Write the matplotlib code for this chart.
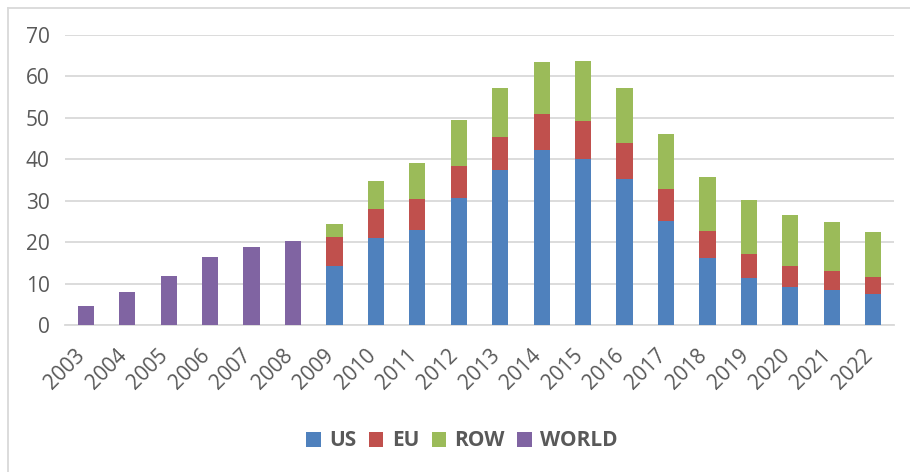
import numpy as np
import matplotlib
matplotlib.use('Agg')
import matplotlib.pyplot as plt
import matplotlib.transforms as mtrans
from matplotlib.lines import Line2D

plt.rcParams['font.family'] = ['Open Sans', 'DejaVu Sans']

years = ['2003', '2004', '2005', '2006', '2007', '2008', '2009', '2010', '2011', '2012',
         '2013', '2014', '2015', '2016', '2017', '2018', '2019', '2020', '2021', '2022']

# WORLD total 2003-2008
world = [4.7, 8.1, 12.0, 16.5, 18.9, 20.3]
# stacked series 2009-2022
us = [14.4, 21.0, 23.1, 30.8, 37.4, 42.3, 40.2, 35.3, 25.2, 16.2, 11.3, 9.2, 8.5, 7.5]
eu = [7.0, 7.0, 7.3, 7.6, 8.0, 8.7, 9.1, 8.7, 7.7, 6.5, 5.9, 5.2, 4.6, 4.2]
row = [3.1, 6.9, 8.7, 11.2, 11.8, 12.5, 14.5, 13.2, 13.2, 13.0, 12.9, 12.2, 11.7, 10.7]

c_us = '#4F81BD'
c_eu = '#C0504D'
c_row = '#9BBB59'
c_world = '#8064A2'
txt = '#595959'
grid = '#D9D9D9'

fig = plt.figure(figsize=(9.1, 4.72), dpi=100)
ax = fig.add_axes([65/910, (472-325.3)/472, 829/910, 290.3/472])

x = np.arange(len(years))
xw = x[:len(world)]
xs = x[len(world):]
w = 0.39

ax.bar(xw, world, w, color=c_world, label='WORLD', zorder=3)
ax.bar(xs, us, w, color=c_us, label='US', zorder=3)
ax.bar(xs, eu, w, bottom=us, color=c_eu, label='EU', zorder=3)
ax.bar(xs, row, w, bottom=np.array(us) + np.array(eu), color=c_row, label='ROW', zorder=3)

ax.set_xlim(-0.5, len(years) - 0.5)
ax.set_ylim(0, 70)
ax.set_yticks(range(0, 71, 10))
ax.yaxis.grid(True, color=grid, linewidth=1.3, zorder=0)
ax.set_axisbelow(True)
for s in ['top', 'right', 'left']:
    ax.spines[s].set_visible(False)
ax.spines['bottom'].set_color(grid)
ax.spines['bottom'].set_linewidth(1.3)
ax.tick_params(axis='both', length=0, labelsize=15, colors=txt)
ax.tick_params(axis='y', pad=11)
ax.set_xticks(x)
ax.set_xticklabels(years, rotation=45, ha='right', rotation_mode='anchor')
ax.tick_params(axis='x', pad=14)
shift = mtrans.ScaledTranslation(-0.11, 0, fig.dpi_scale_trans)
for lab in ax.get_xticklabels():
    lab.set_transform(lab.get_transform() + shift)

h, l = ax.get_legend_handles_labels()
order = [1, 2, 3, 0]
leg = fig.legend([h[i] for i in order], [l[i] for i in order], loc='center',
                 bbox_to_anchor=(462/910, 1 - 441/472), ncol=4, frameon=False,
                 handlelength=0.7, handleheight=0.7, handletextpad=0.4, columnspacing=0.6,
                 prop={'size': 15, 'weight': 'bold'})
for t in leg.get_texts():
    t.set_color(txt)

# outer chart border
fig.add_artist(Line2D([8/910, 8/910], [0, 1 - 8/472], color=grid, linewidth=1.3))
fig.add_artist(Line2D([8/910, 1], [1 - 8/472, 1 - 8/472], color=grid, linewidth=1.3))

fig.savefig('out.png', dpi=100, facecolor='white')
